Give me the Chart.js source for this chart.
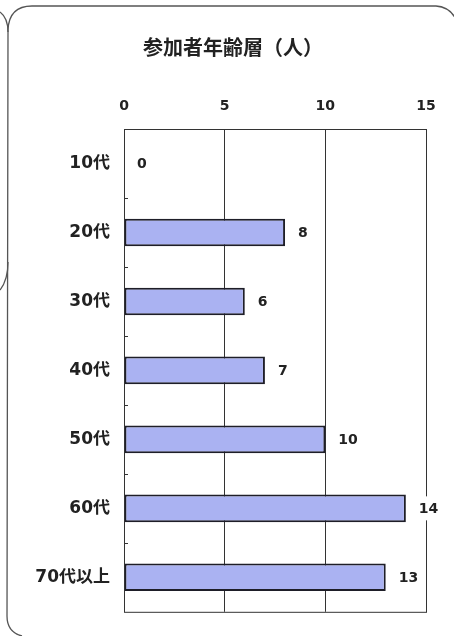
<!DOCTYPE html>
<html>
<head>
<meta charset="utf-8">
<script src="https://cdn.jsdelivr.net/npm/chart.js@4/dist/chart.umd.min.js"></script>
<style>
  html, body { margin: 0; padding: 0; background: #ffffff; }
  #wrap { position: relative; width: 454px; height: 636px; }
  canvas { display: block; }
</style>
</head>
<body>
<div id="wrap"><canvas id="c" width="454" height="636"></canvas></div>
<script>
const titleText = '参加者年齢層（人）';
const categories = ['10代', '20代', '30代', '40代', '50代', '60代', '70代以上'];
const counts = [0, 8, 6, 7, 10, 14, 13];
const xTicks = [0, 5, 10, 15];

const FONT = '"Noto Sans CJK JP", "Noto Sans", sans-serif';
const NUMFONT = '"DejaVu Sans", "Noto Sans CJK JP", sans-serif';
const INK = '#222222';

const framePlugin = {
  id: 'frame',
  beforeDraw(chart) {
    const ctx = chart.ctx;
    ctx.save();
    ctx.strokeStyle = '#555555';
    ctx.lineWidth = 1.3;
    ctx.beginPath();
    ctx.moveTo(22, 636);
    ctx.quadraticCurveTo(7, 632, 7, 616);
    ctx.lineTo(8, 30);
    ctx.quadraticCurveTo(9, 6, 32, 6);
    ctx.lineTo(436, 6);
    ctx.quadraticCurveTo(452, 7, 458, 24);
    ctx.stroke();
    ctx.beginPath();
    ctx.moveTo(0, 12);
    ctx.quadraticCurveTo(8, 18, 8, 32);
    ctx.stroke();
    ctx.beginPath();
    ctx.moveTo(8, 262);
    ctx.quadraticCurveTo(8, 280, 0, 290);
    ctx.stroke();
    ctx.restore();
  }
};

const boxPlugin = {
  id: 'box',
  afterDatasetsDraw(chart) {
    const ctx = chart.ctx;
    const a = chart.chartArea;
    const ys = chart.scales.y;
    ctx.save();
    ctx.strokeStyle = '#333333';
    ctx.lineWidth = 1;
    ctx.strokeRect(a.left + 0.5, a.top + 0.5, a.right - a.left, a.bottom - a.top);
    ctx.beginPath();
    for (let i = 0; i < categories.length - 1; i++) {
      const y = Math.round(ys.getPixelForValue(i + 0.5)) + 0.5;
      ctx.moveTo(a.left, y);
      ctx.lineTo(a.left + 4, y);
    }
    ctx.stroke();
    const meta = chart.getDatasetMeta(0);
    ctx.font = 'bold 14px ' + NUMFONT;
    ctx.textBaseline = 'middle';
    ctx.textAlign = 'left';
    meta.data.forEach((bar, i) => {
      const txt = String(counts[i]);
      const x = bar.x + 13;
      const y = bar.y;
      const w = ctx.measureText(txt).width;
      ctx.fillStyle = '#ffffff';
      ctx.fillRect(x - 4, y - 12, w + 8, 24);
      ctx.fillStyle = INK;
      ctx.fillText(txt, x, y + 1);
    });
    ctx.restore();
  }
};

new Chart(document.getElementById('c'), {
  type: 'bar',
  data: {
    labels: categories,
    datasets: [{
      data: counts,
      backgroundColor: '#aab2f2',
      borderColor: '#1e1e28',
      borderWidth: 2,
      borderSkipped: false,
      categoryPercentage: 1.0,
      barPercentage: 0.4,
      yAxisID: 'y'
    }]
  },
  options: {
    indexAxis: 'y',
    responsive: false,
    animation: false,
    devicePixelRatio: 1,
    layout: { padding: { left: 12, right: 0, top: 0, bottom: 16 } },
    plugins: {
      legend: { display: false },
      tooltip: { enabled: false },
      title: {
        display: true,
        text: titleText,
        color: INK,
        font: { family: FONT, size: 20, weight: 'bold' },
        padding: { top: 35, bottom: 10 }
      }
    },
    scales: {
      x: {
        position: 'top',
        min: 0,
        max: 15,
        afterBuildTicks(scale) { scale.ticks = xTicks.map(v => ({ value: v })); },
        afterFit(scale) { scale.height = 129 - 69; },
        grid: { color: '#333333', lineWidth: 1, drawTicks: false },
        border: { display: false },
        ticks: {
          color: INK,
          padding: 14,
          font: { family: NUMFONT, size: 14, weight: 'bold' }
        }
      },
      y: {
        position: 'left',
        afterFit(scale) { scale.width = 112; },
        grid: { display: false, drawTicks: false },
        border: { display: false },
        ticks: {
          color: INK,
          padding: 14,
          font: { family: NUMFONT, size: 17, weight: 'bold' }
        }
      },
      yRight: {
        position: 'right',
        type: 'category',
        afterFit(scale) { scale.width = 28; },
        grid: { display: false, drawTicks: false },
        border: { display: false },
        ticks: { display: false }
      }
    }
  },
  plugins: [framePlugin, boxPlugin]
});
</script>
</body>
</html>
